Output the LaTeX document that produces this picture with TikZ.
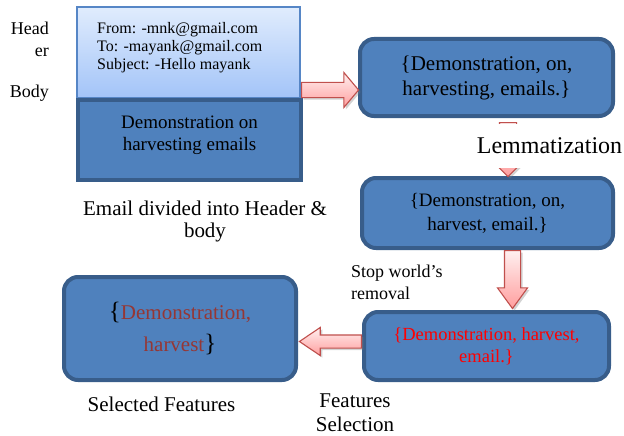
\documentclass[tikz,border=0pt]{standalone}
\usepackage{fontspec}
\setmainfont{Liberation Serif}
\usepackage{xcolor}
\definecolor{boxblue}{RGB}{79,129,189}
\definecolor{boxedge}{RGB}{56,93,138}
\definecolor{hdrtop}{RGB}{224,236,253}
\definecolor{hdrbot}{RGB}{163,196,248}
\definecolor{hdredge}{RGB}{86,134,198}
\definecolor{arrowedge}{RGB}{192,80,77}
\definecolor{featred}{RGB}{149,55,53}
\usetikzlibrary{shapes.arrows, positioning, calc, shadows}

\newcommand{\fsz}[2]{\fontsize{#1}{#2}\selectfont}

\begin{document}
\begin{tikzpicture}[x=1pt, y=-1pt]

        % Estilos dos blocos e das setas
        \tikzstyle{roundbox} = [rectangle, draw=boxedge, line width=4pt, fill=boxblue, rounded corners=14pt, align=center, inner sep=0pt]
        \tikzstyle{blockarrow} = [single arrow, draw=arrowedge, line width=1.1pt, top color=red!6, bottom color=red!38, drop shadow={shadow xshift=2pt, shadow yshift=-2pt, opacity=0.35}]
        \tikzstyle{plain} = [align=center, inner sep=0pt]

        \useasboundingbox (0,0) rectangle (624,436);

        % Email: header and body
        \node [rectangle, draw=hdredge, line width=2pt, top color=hdrtop, bottom color=hdrbot, minimum width=223pt, minimum height=91pt] (hdr) at (188.5,52.5) {};
        \node [plain, anchor=north west, align=left, font=\fsz{16}{18}] (hdrtxt) at (97,22) {From: -mnk@gmail.com\\To: -mayank@gmail.com\\Subject: -Hello mayank};
        \node [rectangle, draw=boxedge, line width=4pt, fill=boxblue, minimum width=223pt, minimum height=80pt] (body) at (189.5,140) {};
        \node [plain, font=\fsz{19}{22}] (bodytxt) at ($(body.center)+(0,-5)$) {Demonstration on\\harvesting emails};

        \node [plain, anchor=east, align=right, font=\fsz{18}{22}] (hdrlbl) at (49,39) {Head\\er};
        \node [plain, anchor=east, font=\fsz{18}{22}] (bodylbl) at (49,93) {Body};
        \node [plain, font=\fsz{21}{22}] (emailcap) at (205,221) {Email divided into Header \&\\body};

        % Processing steps
        \node [roundbox, minimum width=253pt, minimum height=77pt, font=\fsz{21}{25}] (tok) at (486.5,77.5) {\{Demonstration, on,\\harvesting, emails.\}};
        \node [roundbox, minimum width=251pt, minimum height=70pt, font=\fsz{19}{24}] (lem) at (487.5,213) {\{Demonstration, on,\\harvest, email.\}};
        \node [roundbox, minimum width=245pt, minimum height=68pt, font=\fsz{18.5}{22}, text=red] (stop) at (486.5,346) {\{Demonstration, harvest,\\email.\}};
        \node [roundbox, minimum width=232pt, minimum height=103pt, font=\fsz{21}{32}] (sel) at (180,328.5) {{\fsz{25}{32}\{}\textcolor{featred}{Demonstration,}\\\textcolor{featred}{harvest}{\fsz{25}{32}\}}};

        % ---------------------------------------------------------
        % Setas entre os blocos
        % ---------------------------------------------------------

        % 1. Email -> tokens
        \node [blockarrow, anchor=tail, minimum height=57pt, inner sep=7pt, single arrow head extend=10pt, single arrow tip angle=100] (toTok) at (hdr.east |- 0,90) {};

        % 2. Tokens -> lemmas (half hidden by the label)
        \node [blockarrow, shape border rotate=270, anchor=tail, minimum height=54pt, inner sep=8pt, single arrow head extend=7pt] (toLem) at ($(tok.south -| 508,0)+(0,4)$) {};
        \node [plain, fill=white, minimum height=44pt, font=\fsz{24}{26}] (lemlbl) at (549.5,146) {Lemmatization};

        % 3. Lemmas -> stop words removed
        \node [blockarrow, shape border rotate=270, anchor=tail, minimum height=58pt, inner sep=7.5pt, single arrow head extend=7pt, single arrow tip angle=72] (toStop) at (lem.south -| 512.5,0) {};
        \node [plain, anchor=west, align=left, font=\fsz{18}{22}] (stoplbl) at (351,282) {Stop world’s\\removal};

        % 4. Stop words removed -> selected features
        \node [blockarrow, shape border rotate=180, anchor=tail, minimum height=62pt, inner sep=6pt, single arrow head extend=7.5pt, single arrow tip angle=68] (toSel) at (stop.west |- 0,341.5) {};
        \node [plain, font=\fsz{21}{24}] (featlbl) at (355,413) {Features\\Selection};
        \node [plain, font=\fsz{21}{22}] (selcap) at (161.5,404) {Selected Features};

    \end{tikzpicture}
\end{document}
